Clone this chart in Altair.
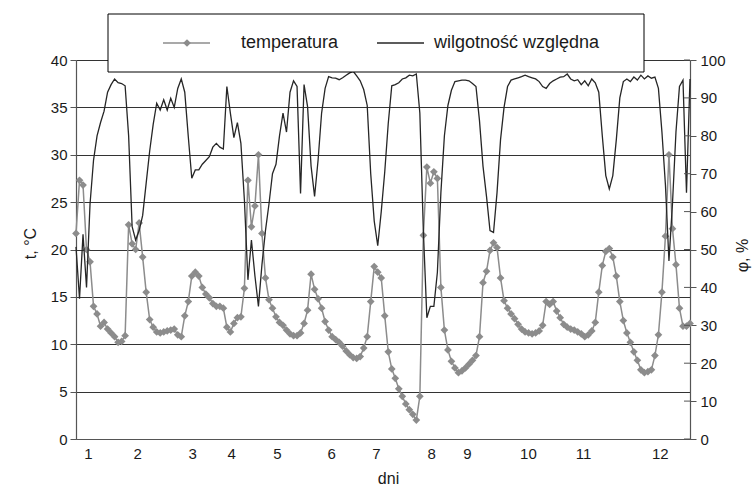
import json

import altair as alt
import pandas as pd

# Temperatura powietrza [°C] - kolejne pomiary
temperatura = [
    21.7, 27.3, 26.8, 20.0, 18.7, 14.0, 13.2, 11.9, 12.3, 11.6,
    11.2, 10.8, 10.2, 10.3, 10.9, 22.6, 20.6, 20.0, 22.8, 19.2,
    15.5, 12.6, 11.8, 11.3, 11.2, 11.3, 11.4, 11.5, 11.6, 11.0,
    10.8, 13.0, 14.5, 17.2, 17.6, 17.2, 16.0, 15.3, 14.9, 14.3,
    14.0, 14.0, 13.8, 11.8, 11.3, 12.2, 12.8, 12.9, 15.9, 27.3,
    22.4, 24.6, 30.0, 21.7, 17.0, 14.7, 13.8, 12.9, 12.3, 12.0,
    11.5, 11.1, 10.9, 10.9, 11.2, 12.2, 13.6, 17.4, 15.8, 14.8,
    13.8, 12.4, 11.5, 10.8, 10.5, 10.2, 9.8, 9.3, 8.9, 8.6,
    8.5, 8.7, 9.6, 10.8, 14.5, 18.2, 17.6, 17.0, 13.0, 9.2,
    7.4, 6.4, 5.3, 4.5, 3.7, 3.1, 2.6, 2.0, 4.5, 21.5,
    28.7, 27.0, 28.2, 27.5, 16.0, 11.5, 9.4, 8.2, 7.5, 7.0,
    7.2, 7.5, 7.9, 8.3, 8.8, 10.8, 16.5, 17.7, 19.9, 20.7,
    20.2, 17.0, 14.6, 13.8, 13.2, 12.7, 12.1, 11.6, 11.3, 11.2,
    11.1, 11.2, 11.4, 12.0, 14.5, 14.2, 14.5, 13.5, 12.8, 12.1,
    11.8, 11.6, 11.5, 11.3, 11.1, 10.8, 11.0, 11.4, 12.3, 15.5,
    18.3, 19.8, 20.1, 19.2, 17.2, 14.5, 12.5, 11.2, 10.2, 9.2,
    8.3, 7.3, 7.0, 7.1, 7.3, 8.8, 11.0, 15.5, 21.4, 30.0,
    22.2, 18.4, 13.8, 11.9, 11.9, 12.2,
]

# Wilgotność względna powietrza [%] - te same chwile pomiarowe
wilgotnosc = [
    50.7, 37.0, 54.0, 40.0, 62.0, 73.6, 80.0, 83.5, 86.5, 91.5,
    93.5, 95.0, 94.0, 93.8, 93.2, 80.0, 56.0, 52.5, 55.0, 59.0,
    67.5, 76.0, 83.0, 88.6, 86.8, 89.5, 86.8, 89.9, 87.5, 92.5,
    95.0, 91.5, 79.8, 68.8, 71.0, 71.0, 72.5, 73.5, 74.5, 77.0,
    78.0, 77.0, 76.5, 93.0, 86.0, 79.5, 83.5, 78.0, 63.0, 42.0,
    52.5, 43.0, 35.0, 46.0, 55.0, 62.0, 70.0, 72.5, 80.0, 86.0,
    81.0, 91.5, 94.5, 93.0, 64.8, 93.5, 87.7, 72.0, 64.0, 73.6,
    86.0, 92.5, 95.6, 95.3, 95.2, 94.8, 95.3, 96.0, 96.6, 97.0,
    95.8, 94.5, 92.2, 88.0, 70.0, 57.5, 51.0, 60.0, 70.5, 83.3,
    93.2, 93.5, 94.0, 95.0, 95.3, 96.0, 95.8, 96.3, 86.0, 55.0,
    32.0, 35.0, 35.0, 44.0, 65.0, 80.0, 88.0, 92.0, 94.3, 94.5,
    94.7, 94.7, 94.5, 93.8, 93.0, 84.0, 72.0, 64.0, 55.0, 54.5,
    65.0, 79.0, 87.5, 93.0, 94.7, 95.0, 95.3, 95.6, 96.0, 95.6,
    95.3, 95.0, 94.3, 93.0, 92.5, 93.8, 94.5, 95.0, 95.5, 95.6,
    96.3, 95.0, 94.5, 94.8, 93.5, 94.5, 93.2, 95.0, 94.0, 91.5,
    80.0, 69.5, 66.0, 69.5, 79.0, 90.0, 94.3, 95.0, 94.3, 95.5,
    94.7, 96.0, 95.0, 95.8, 95.2, 95.5, 92.5, 81.0, 67.0, 47.0,
    62.0, 81.0, 93.0, 94.7, 65.0, 95.0,
]

# Numery pomiarów, przy których zaczynają się kolejne dni
dni_pozycje = [3.4, 17.4, 33.1, 44.2, 57.3, 72.7, 85.5, 101.2, 111.4, 128.8, 144.5, 166.4]
dni_etykiety = ["1", "2", "3", "4", "5", "6", "7", "8", "9", "10", "11", "12"]

# Podziałka prawej osi (wilgotność)
phi_podzialka = [0, 10, 20, 30, 40, 50, 60, 70, 80, 90, 100]

n = len(temperatura)
df = pd.DataFrame({"i": list(range(n)), "t": temperatura, "phi": wilgotnosc})
ticks_df = pd.DataFrame({"phi": phi_podzialka})
one = pd.DataFrame({"k": [0]})

FONT = "Liberation Sans"
TXT = "#1a1a1a"
GRID = "#333333"
DOMAIN = "#555555"
T_COLOR = "#8c8c8c"
H_COLOR = "#262626"
MARKER = 60

W, H = 614, 379

x_scale = alt.Scale(domain=[0, n - 1], nice=False, zero=False)
label_expr = (
    f"{json.dumps(dni_etykiety)}[indexof({json.dumps(dni_pozycje)}, datum.value)]"
)

x_axis = alt.Axis(
    values=dni_pozycje,
    labelExpr=label_expr,
    title="dni",
    ticks=False,
    grid=False,
    domainColor=DOMAIN,
    domainWidth=1.2,
    labelPadding=7,
    labelFontSize=15,
    titleFontSize=16,
    titleX=312,
    titleY=39,
    titleBaseline="middle",
    titleAlign="center",
)
x_enc = alt.X("i:Q", scale=x_scale, axis=x_axis)
phi_scale = alt.Scale(domain=[0, 100], nice=False)

temp = (
    alt.Chart(df)
    .mark_line(
        color=T_COLOR,
        strokeWidth=1.5,
        point=alt.OverlayMarkDef(shape="diamond", size=MARKER, filled=True, color=T_COLOR, opacity=1),
    )
    .encode(
        x=x_enc,
        y=alt.Y(
            "t:Q",
            scale=alt.Scale(domain=[0, 40], nice=False),
            axis=alt.Axis(
                orient="left",
                values=list(range(0, 41, 5)),
                grid=True,
                gridColor=GRID,
                gridWidth=1.1,
                domainColor=DOMAIN,
                domainWidth=1.2,
                tickColor=DOMAIN,
                tickSize=6,
                labelPadding=3,
                labelFontSize=15,
                title="t, °C",
                titleFontSize=16,
                titleAngle=270,
                titleAlign="center",
                titleBaseline="middle",
                titleX=-46,
                titleY=183,
            ),
        ),
    )
)

hum = (
    alt.Chart(df)
    .mark_line(color=H_COLOR, strokeWidth=1.3)
    .encode(
        x=x_enc,
        y=alt.Y(
            "phi:Q",
            scale=phi_scale,
            axis=alt.Axis(
                orient="right",
                values=phi_podzialka,
                grid=False,
                domainColor=DOMAIN,
                domainWidth=1.2,
                tickColor=DOMAIN,
                tickSize=6,
                labelPadding=4,
                labelFontSize=15,
                title="φ, %",
                titleFontSize=16,
                titleAngle=270,
                titleAlign="center",
                titleBaseline="middle",
                titleX=52,
                titleY=195,
            ),
        ),
    )
)

# Wewnętrzna część kresek podziałki prawej osi (kreski przecinają oś)
inner_ticks = alt.Chart(ticks_df).mark_rule(color=DOMAIN, strokeWidth=1).encode(
    y=alt.Y("phi:Q", scale=phi_scale, axis=None),
    x=alt.value(W - 6),
    x2=alt.value(W),
)

# Ramka legendy nad wykresem
box = alt.Chart(one).mark_rect(fill="white", stroke="#000000", strokeWidth=1).encode(
    x=alt.value(32), x2=alt.value(568), y=alt.value(-46), y2=alt.value(12)
)
leg_t_line = alt.Chart(one).mark_rule(color=T_COLOR, strokeWidth=1.5).encode(
    x=alt.value(87), x2=alt.value(134), y=alt.value(-17)
)
leg_t_pt = alt.Chart(one).mark_point(shape="diamond", size=MARKER, filled=True, color=T_COLOR, opacity=1).encode(
    x=alt.value(111), y=alt.value(-17)
)
leg_t_txt = alt.Chart(one).mark_text(
    text="temperatura", align="left", baseline="middle", font=FONT, fontSize=18, color=TXT
).encode(x=alt.value(165), y=alt.value(-17))
leg_h_line = alt.Chart(one).mark_rule(color=H_COLOR, strokeWidth=1.3).encode(
    x=alt.value(301), x2=alt.value(348), y=alt.value(-17)
)
leg_h_txt = alt.Chart(one).mark_text(
    text="wilgotność względna", align="left", baseline="middle", font=FONT, fontSize=18, color=TXT
).encode(x=alt.value(358), y=alt.value(-17))

chart = (
    alt.layer(temp, hum, inner_ticks, box, leg_t_line, leg_t_pt, leg_t_txt, leg_h_line, leg_h_txt)
    .resolve_scale(y="independent")
    .properties(
        width=W,
        height=H,
        autosize=alt.AutoSizeParams(type="none"),
        padding={"left": 76, "top": 60, "right": 63, "bottom": 48},
        background="white",
    )
    .configure_view(stroke=None)
    .configure_axis(
        labelFont=FONT,
        titleFont=FONT,
        labelColor=TXT,
        titleColor=TXT,
        titleFontWeight="normal",
    )
)

chart.save("out.html", embed_options={"renderer": "svg", "actions": False})
